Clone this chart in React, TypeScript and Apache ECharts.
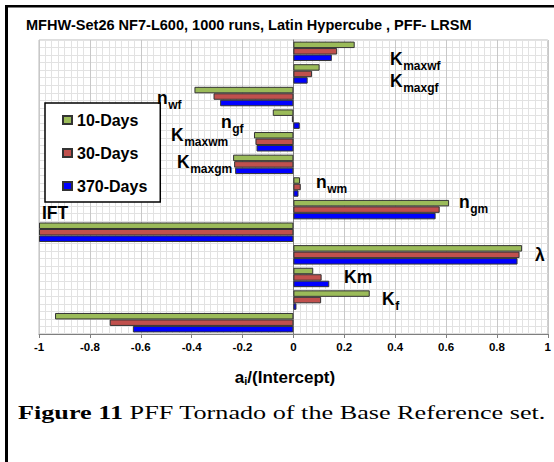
import { useEffect, useRef } from "react";
import * as echarts from "echarts";

// ---- data -----------------------------------------------------------------
const categories = [
  "Kmaxwf", "Kmaxgf", "nwf", "ngf", "Kmaxwm", "Kmaxgm",
  "nwm", "ngm", "IFT", "λ", "Km", "Kf", "(unlabelled)",
];
const seriesNames = ["10-Days", "30-Days", "370-Days"];
const days10 = [0.241, 0.103, -0.389, -0.081, -0.155, -0.237, 0.026, 0.612, -1.0, 0.899, 0.078, 0.3, -0.937];
const days30 = [0.172, 0.073, -0.314, -0.006, -0.149, -0.233, 0.029, 0.575, -1.0, 0.889, 0.111, 0.109, -0.722];
const days370 = [0.151, 0.056, -0.288, 0.025, -0.145, -0.229, 0.02, 0.559, -1.0, 0.881, 0.141, 0.012, -0.631];
const xMin = -1;
const xMax = 1;
const xStep = 0.2;

// parameter names drawn beside the bars: [main, subscript]
const paramLabels: [string, string][] = [
  ["K", "maxwf"], ["K", "maxgf"], ["n", "wf"], ["n", "gf"], ["K", "maxwm"], ["K", "maxgm"],
  ["n", "wm"], ["n", "gm"], ["IFT", ""], ["λ", ""], ["Km", ""], ["K", "f"],
];
const titleText = "MFHW-Set26 NF7-L600, 1000 runs, Latin Hypercube , PFF- LRSM";
const axisTitleParts = ["a", "i", "/(Intercept)"];
const captionBold = "Figure 11";
const captionRest = " PFF Tornado of the Base Reference set.";

// ---- layout & style -------------------------------------------------------
const SANS = "'Liberation Sans', Arial, Helvetica, sans-serif";
const SERIF = "'Liberation Serif', 'Times New Roman', serif";
const COLORS = ["#9BBB59", "#C0504D", "#0000FF"];
const GRID = { left: 39, top: 40, width: 512, height: 294 };
// left edge / vertical middle of each parameter label
const LABEL_ANCHORS: [number, number][] = [
  [390, 59], [390, 81], [157, 98], [221, 122], [171, 135], [177, 161.5],
  [316, 182], [459, 202], [42, 212.5], [535, 255], [344, 277], [382, 299],
];

function textWidth(text: string, font: string): number {
  const ctx = document.createElement("canvas").getContext("2d");
  if (!ctx) return text.length * 8;
  ctx.font = font;
  return ctx.measureText(text).width;
}

function txt(text: string, x: number, y: number, size: number, weight: string, family: string, extra: any = {}) {
  return {
    type: "text",
    x,
    y,
    z: 100,
    silent: true,
    ...extra,
    style: {
      text,
      fill: "#000",
      fontSize: size,
      fontWeight: weight,
      fontFamily: family,
      align: "left",
      verticalAlign: "middle",
    },
  };
}

function buildGraphics() {
  const els: any[] = [];
  // frame lines
  els.push({ type: "rect", z: 100, shape: { x: 5, y: 5, width: 3, height: 457 }, style: { fill: "#000" }, silent: true });
  els.push({ type: "rect", z: 100, shape: { x: 5, y: 5, width: 549, height: 2.5 }, style: { fill: "#000" }, silent: true });

  // title
  const tSize = 14.5;
  const tW = textWidth(titleText, `bold ${tSize}px ${SANS}`);
  els.push(txt(titleText, 26, 25, tSize, "bold", SANS, { scaleX: 446 / tW }));

  // parameter labels
  const mainSize = 17.5;
  const subSize = 12;
  paramLabels.forEach(([main, sub], i) => {
    const [x, y] = LABEL_ANCHORS[i];
    els.push(txt(main, x, y, mainSize, "bold", SANS));
    if (sub) {
      const w = textWidth(main, `bold ${mainSize}px ${SANS}`);
      els.push(txt(sub, x + w + 0.5, y + 7, subSize, "bold", SANS));
    }
  });

  // x axis title: a_i/(Intercept)
  const aSize = 17;
  const iSize = 11;
  const wA = textWidth(axisTitleParts[0], `bold ${aSize}px ${SANS}`);
  const wI = textWidth(axisTitleParts[1], `bold ${iSize}px ${SANS}`);
  const wR = textWidth(axisTitleParts[2], `bold ${aSize}px ${SANS}`);
  const startX = 285 - (wA + wI + wR) / 2;
  els.push(txt(axisTitleParts[0], startX, 377, aSize, "bold", SANS));
  els.push(txt(axisTitleParts[1], startX + wA, 381, iSize, "bold", SANS));
  els.push(txt(axisTitleParts[2], startX + wA + wI, 377, aSize, "bold", SANS));

  // caption
  const cSize = 18;
  const wB = textWidth(captionBold, `bold ${cSize}px ${SERIF}`);
  const wRest = textWidth(captionRest, `${cSize}px ${SERIF}`);
  const s = 528 / (wB + wRest);
  els.push(txt(captionBold, 18, 413, cSize, "bold", SERIF, { scaleX: s }));
  els.push(txt(captionRest, 18 + wB * s, 413, cSize, "normal", SERIF, { scaleX: s }));
  return els;
}

export default function App() {
  const ref = useRef<HTMLDivElement>(null);

  useEffect(() => {
    const el = ref.current;
    if (!el) return;
    const chart = echarts.init(el, null, { renderer: "svg" });
    const seriesData = [days10, days30, days370];

    chart.setOption({
      animation: false,
      backgroundColor: "#fff",
      grid: { ...GRID, show: true, borderColor: "#bdbdbd", borderWidth: 1, backgroundColor: "transparent" },
      legend: {
        data: seriesNames,
        orient: "vertical",
        left: 45,
        top: 103,
        icon: "rect",
        itemWidth: 9,
        itemHeight: 8,
        itemGap: 17,
        padding: [9, 13, 8, 17],
        borderColor: "#000",
        borderWidth: 1.5,
        backgroundColor: "#fff",
        selectedMode: false,
        textStyle: { fontFamily: SANS, fontWeight: "bold", fontSize: 16, color: "#000" },
      },
      xAxis: {
        type: "value",
        min: xMin,
        max: xMax,
        interval: xStep,
        axisLine: { show: true, onZero: false, lineStyle: { color: "#7f7f7f" } },
        axisTick: { show: true, length: 4, lineStyle: { color: "#7f7f7f" } },
        axisLabel: {
          color: "#000",
          fontFamily: SANS,
          fontWeight: "bold",
          fontSize: 11.5,
          margin: 7,
          formatter: (v: number) => String(Math.round(v * 10) / 10),
        },
        splitLine: { show: true, lineStyle: { color: "#c8c8c8" } },
        minorTick: { show: false, splitNumber: 8 },
        minorSplitLine: { show: true, lineStyle: { color: "#e2e2e2" } },
      },
      yAxis: [
        {
          type: "category",
          data: categories,
          inverse: true,
          axisLine: { show: true, onZero: true, lineStyle: { color: "#7f7f7f" } },
          axisTick: { show: false },
          axisLabel: { show: false },
          splitLine: { show: false },
        },
        {
          type: "value",
          min: 0,
          max: categories.length * 3,
          interval: 1,
          position: "right",
          axisLine: { show: false },
          axisTick: { show: false },
          axisLabel: { show: false },
          splitLine: { show: true, lineStyle: { color: "#e2e2e2" } },
        },
      ],
      series: seriesData.map((d, i) => ({
        name: seriesNames[i],
        type: "bar",
        yAxisIndex: 0,
        data: d,
        barGap: "0%",
        barCategoryGap: "14%",
        silent: true,
        itemStyle: { color: COLORS[i], borderColor: "#333", borderWidth: 1 },
      })),
      graphic: { elements: buildGraphics() },
    });

    return () => chart.dispose();
  }, []);

  return (
    <div
      ref={ref}
      style={{ position: "absolute", left: 0, top: 0, width: 554, height: 462, background: "#fff" }}
    />
  );
}
